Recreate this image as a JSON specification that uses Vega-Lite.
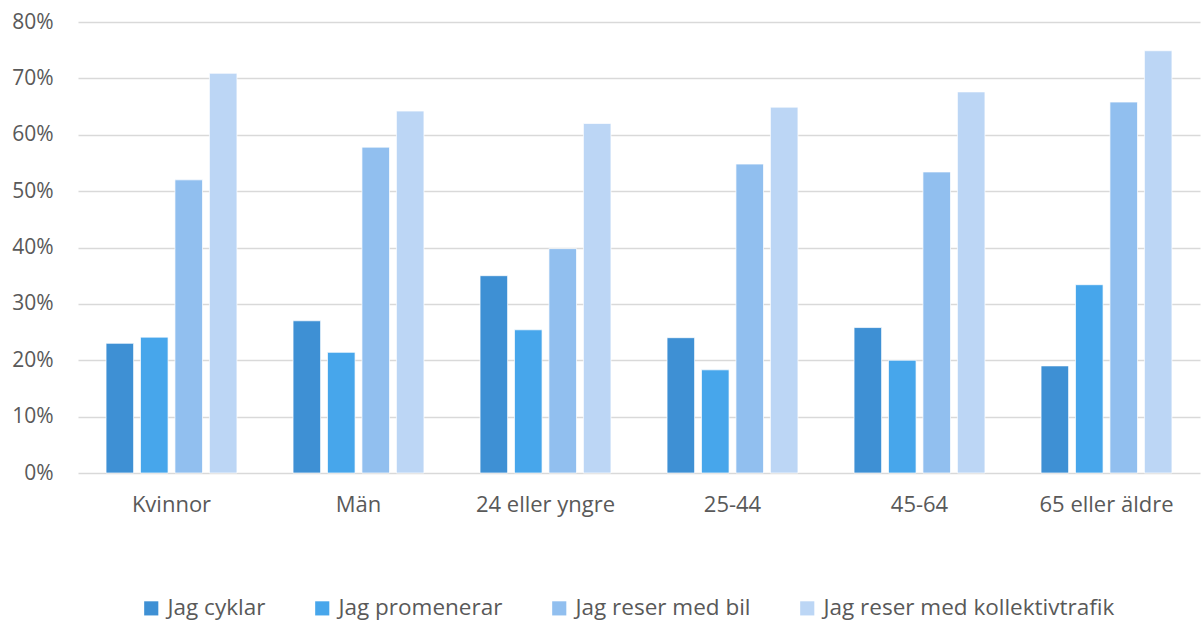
{
  "$schema": "https://vega.github.io/schema/vega-lite/v6.json",
  "width": 1122,
  "height": 451,
  "autosize": {"type": "none"},
  "padding": {"left": 78, "top": 22, "right": 3, "bottom": 151},
  "background": "white",
  "config": {
    "view": {"stroke": null},
    "font": "Open Sans",
    "axis": {"labelFont": "Open Sans", "labelColor": "#595959"}
  },
  "data": {
    "values": [
      {"grupp": "Kvinnor", "serie": "Jag cyklar", "v": 0.23},
      {"grupp": "Kvinnor", "serie": "Jag promenerar", "v": 0.241},
      {"grupp": "Kvinnor", "serie": "Jag reser med bil", "v": 0.52},
      {"grupp": "Kvinnor", "serie": "Jag reser med kollektivtrafik", "v": 0.709},
      {"grupp": "Män", "serie": "Jag cyklar", "v": 0.27},
      {"grupp": "Män", "serie": "Jag promenerar", "v": 0.214},
      {"grupp": "Män", "serie": "Jag reser med bil", "v": 0.578},
      {"grupp": "Män", "serie": "Jag reser med kollektivtrafik", "v": 0.642},
      {"grupp": "24 eller yngre", "serie": "Jag cyklar", "v": 0.35},
      {"grupp": "24 eller yngre", "serie": "Jag promenerar", "v": 0.254},
      {"grupp": "24 eller yngre", "serie": "Jag reser med bil", "v": 0.398},
      {"grupp": "24 eller yngre", "serie": "Jag reser med kollektivtrafik", "v": 0.62},
      {"grupp": "25-44", "serie": "Jag cyklar", "v": 0.24},
      {"grupp": "25-44", "serie": "Jag promenerar", "v": 0.183},
      {"grupp": "25-44", "serie": "Jag reser med bil", "v": 0.548},
      {"grupp": "25-44", "serie": "Jag reser med kollektivtrafik", "v": 0.649},
      {"grupp": "45-64", "serie": "Jag cyklar", "v": 0.258},
      {"grupp": "45-64", "serie": "Jag promenerar", "v": 0.2},
      {"grupp": "45-64", "serie": "Jag reser med bil", "v": 0.534},
      {"grupp": "45-64", "serie": "Jag reser med kollektivtrafik", "v": 0.676},
      {"grupp": "65 eller äldre", "serie": "Jag cyklar", "v": 0.19},
      {"grupp": "65 eller äldre", "serie": "Jag promenerar", "v": 0.334},
      {"grupp": "65 eller äldre", "serie": "Jag reser med bil", "v": 0.658},
      {"grupp": "65 eller äldre", "serie": "Jag reser med kollektivtrafik", "v": 0.749}
    ]
  },
  "mark": {"type": "bar", "stroke": "#ffffff", "strokeWidth": 1, "strokeOpacity": 0.7},
  "encoding": {
    "x": {
      "field": "grupp",
      "type": "nominal",
      "sort": null,
      "scale": {"paddingInner": 0.3, "paddingOuter": 0.15},
      "axis": {
        "title": null,
        "labelAngle": 0,
        "labelFontSize": 22,
        "labelPadding": 21,
        "domain": false,
        "ticks": false
      }
    },
    "xOffset": {
      "field": "serie",
      "type": "nominal",
      "sort": null,
      "scale": {"paddingInner": 0.2}
    },
    "y": {
      "field": "v",
      "type": "quantitative",
      "scale": {"domain": [0, 0.8], "nice": false},
      "axis": {
        "title": null,
        "format": ".0%",
        "values": [0, 0.1, 0.2, 0.3, 0.4, 0.5, 0.6, 0.7, 0.8],
        "labelFontSize": 21,
        "labelPadding": 25,
        "domain": false,
        "ticks": false,
        "grid": true,
        "gridColor": "#D9D9D9",
        "gridWidth": 1.5
      }
    },
    "color": {
      "field": "serie",
      "type": "nominal",
      "sort": null,
      "scale": {
        "domain": ["Jag cyklar", "Jag promenerar", "Jag reser med bil", "Jag reser med kollektivtrafik"],
        "range": ["#3E90D4", "#47A6EB", "#91BFEF", "#BCD6F5"]
      },
      "legend": {
        "title": null,
        "orient": "none",
        "direction": "horizontal",
        "legendX": 62,
        "legendY": 575,
        "symbolType": "square",
        "symbolSize": 200,
        "symbolStrokeWidth": 0,
        "labelFontSize": 22.5,
        "labelColor": "#595959",
        "labelFont": "Open Sans",
        "columnPadding": 45,
        "labelOffset": 5,
        "labelLimit": 500
      }
    }
  }
}
